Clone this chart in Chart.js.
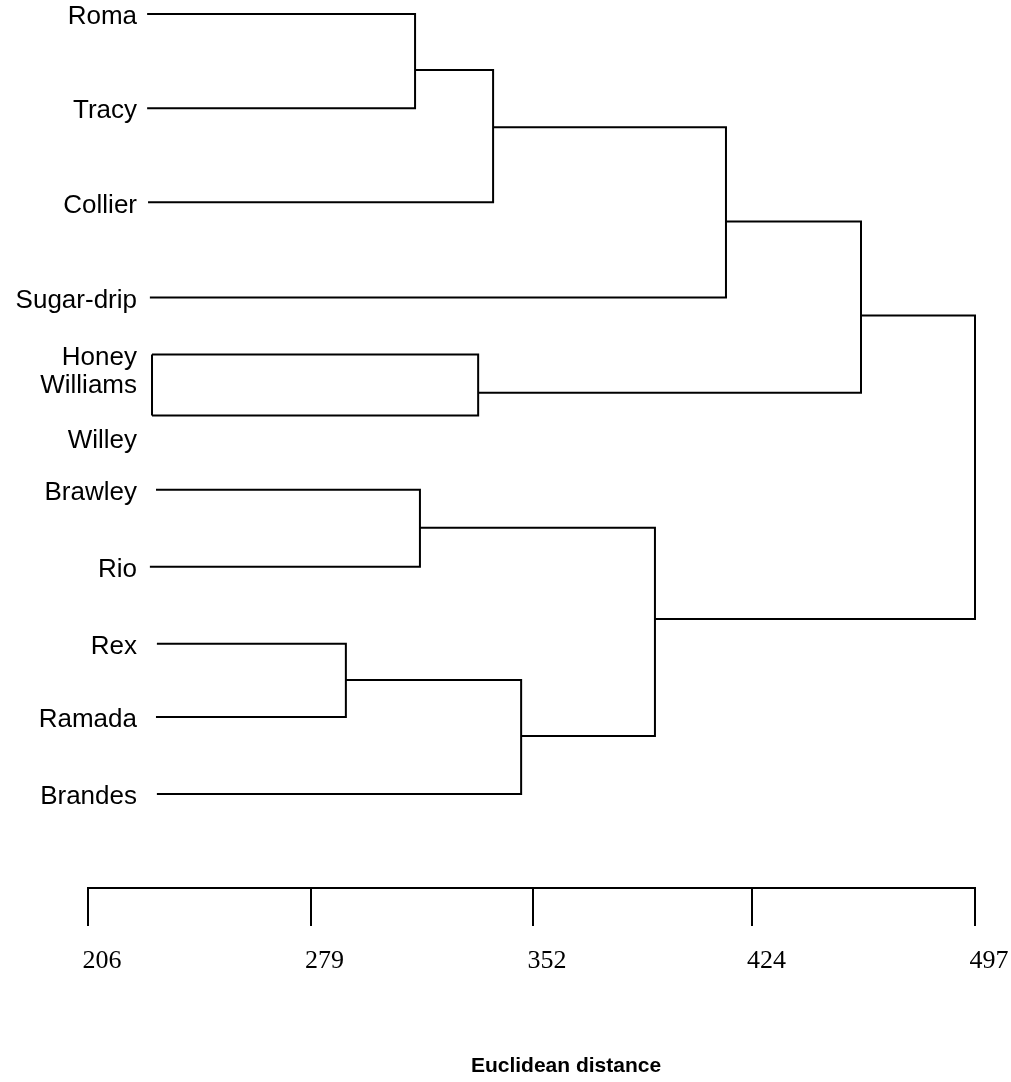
<!DOCTYPE html>
<html><head><meta charset="utf-8">
<script src="https://cdn.jsdelivr.net/npm/chart.js@4/dist/chart.umd.min.js"></script>
<style>html,body{margin:0;padding:0;background:#fff}canvas{display:block}</style>
</head><body>
<canvas id="c" width="1011" height="1082"></canvas>
<script>
// ---- data ----
const leaves = ['Roma','Tracy','Collier','Sugar-drip','Honey\nWilliams','Willey','Brawley','Rio','Rex','Ramada','Brandes'];
const leafOrder = [0, 0.99, 1.98, 2.98, 3.58, 4.22, 5.0, 5.81, 6.62, 7.39, 8.2];
const leafStart = [225.4, 225.4, 225.7, 226.3, 227.0, 227.0, 228.3, 226.3, 228.6, 228.3, 228.6];
// merge nodes: indices 0-10 are leaves, 11+ are merges in this order
const mergeLeft   = [0, 11, 12, 4, 13, 6, 8, 17, 16, 15];
const mergeRight  = [1, 2, 3, 5, 14, 7, 9, 10, 18, 19];
const mergeHeight = [313.3, 338.9, 415.3, 334.0, 459.6, 314.9, 290.6, 348.1, 392.0, 497.0];
const mergeOrder  = [0.59, 1.19, 2.18, 3.98, 3.17, 5.40, 7.00, 7.59, 6.36, 4.77];
const leafJoins = [[4, 5]];
const tickValues = [206, 279, 352, 424, 497];
const axisTitle = 'Euclidean distance';

// ---- layout / style constants ----
const LABEL_SHIFT = {5: 22};
const nLeaves = leaves.length;
const nodeX = i => i < nLeaves ? leafStart[i] : mergeHeight[i - nLeaves];
const nodeY = i => i < nLeaves ? leafOrder[i] : mergeOrder[i - nLeaves];

const lineStyle = {
  showLine: true, pointRadius: 0, pointHoverRadius: 0, borderColor: '#000',
  borderWidth: 2, fill: false, tension: 0, clip: false, borderJoinStyle: 'miter'
};
const datasets = [];
mergeHeight.forEach((h, k) => {
  const a = mergeLeft[k], b = mergeRight[k];
  datasets.push(Object.assign({
    data: [{x: nodeX(a), y: nodeY(a)}, {x: h, y: nodeY(a)}, {x: h, y: nodeY(b)}, {x: nodeX(b), y: nodeY(b)}]
  }, lineStyle));
});
leafJoins.forEach(([a, b]) => {
  datasets.push(Object.assign({
    data: [{x: leafStart[a], y: leafOrder[a]}, {x: leafStart[b], y: leafOrder[b]}]
  }, lineStyle));
});

const labelPlugin = {
  id: 'leafLabels',
  afterDraw(chart) {
    const ctx = chart.ctx, ys = chart.scales.y;
    ctx.save();
    ctx.fillStyle = '#000';
    ctx.font = '26px "Liberation Sans", Arial, sans-serif';
    ctx.textAlign = 'right';
    ctx.textBaseline = 'middle';
    leaves.forEach((name, i) => {
      const y = ys.getPixelForValue(leafOrder[i]) + 3 + (LABEL_SHIFT[i] || 0);
      name.split('\n').forEach((ln, j) => ctx.fillText(ln, 137, y + j * 28));
    });
    ctx.font = 'bold 21px "Liberation Sans", Arial, sans-serif';
    ctx.textAlign = 'center';
    ctx.fillText(axisTitle, 566, 1066);
    ctx.restore();
  }
};

new Chart(document.getElementById('c'), {
  type: 'scatter',
  data: { datasets },
  plugins: [labelPlugin],
  options: {
    responsive: false,
    animation: false,
    layout: { padding: { left: 88, right: 0, top: 0, bottom: 0 } },
    plugins: { legend: { display: false }, tooltip: { enabled: false } },
    scales: {
      x: {
        type: 'linear', min: 206, max: 497,
        afterBuildTicks: s => { s.ticks = tickValues.map(v => ({ value: v })); },
        afterFit: s => { s.paddingLeft = 0; s.paddingRight = 36; s.height = 194; },
        ticks: {
          callback: v => String(v), color: '#000', align: 'center', labelOffset: 14, padding: 20,
          maxRotation: 0, autoSkip: false,
          font: { family: '"Liberation Serif", "Times New Roman", serif', size: 26 }
        },
        grid: { display: true, drawOnChartArea: false, drawTicks: true, tickLength: 38, lineWidth: 2, color: '#000' },
        border: { display: true, color: '#000', width: 2 }
      },
      y: { type: 'linear', reverse: true, min: -0.147, max: 9.187, display: false }
    }
  }
});
</script>
</body></html>
